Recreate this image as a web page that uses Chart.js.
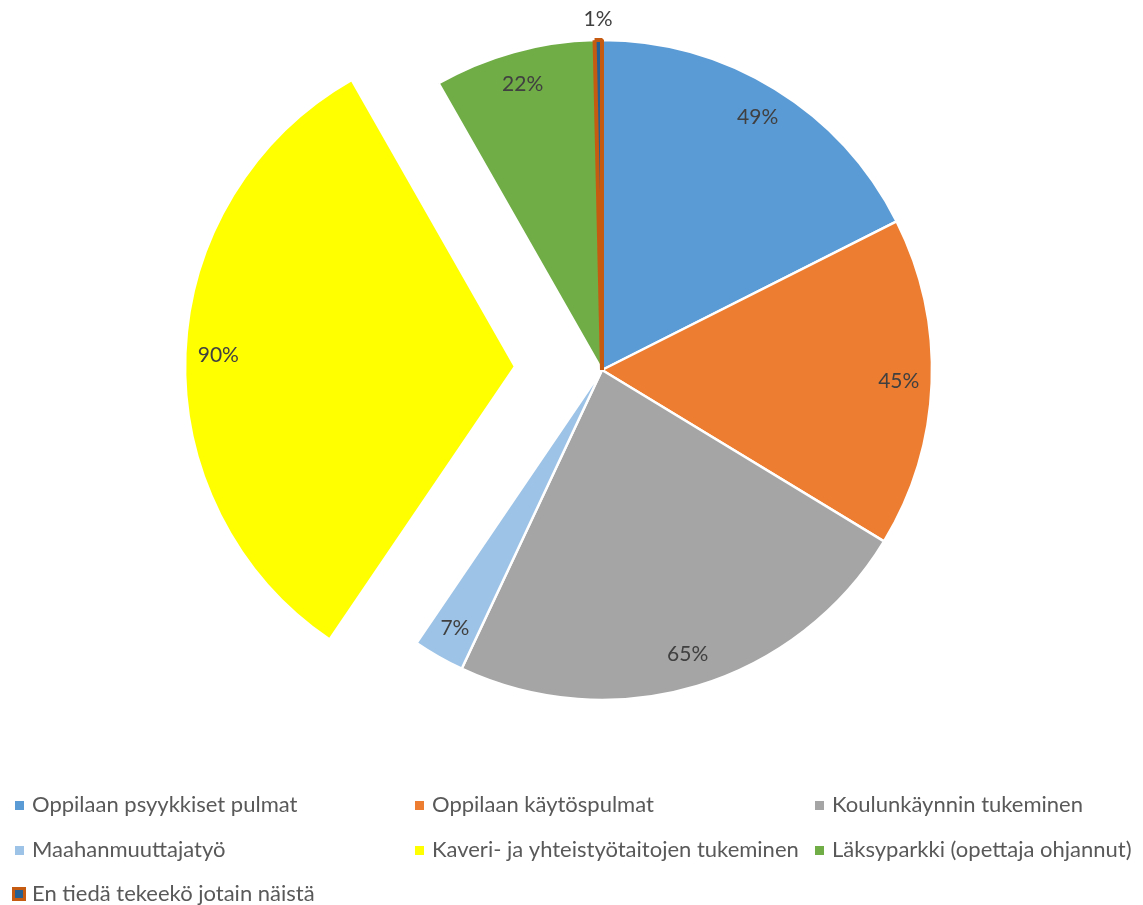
<!DOCTYPE html>
<html>
<head>
<meta charset="utf-8">
<script src="https://cdn.jsdelivr.net/npm/chart.js@4/dist/chart.umd.min.js"></script>
<style>
html,body{margin:0;padding:0;background:#fff;}
#wrap{width:1143px;height:905px;position:relative;}
</style>
</head>
<body>
<div id="wrap"><canvas id="c" width="1143" height="905"></canvas></div>
<script>
const categories = [
  "Oppilaan psyykkiset pulmat",
  "Oppilaan käytöspulmat",
  "Koulunkäynnin tukeminen",
  "Maahanmuuttajatyö",
  "Kaveri- ja yhteistyötaitojen tukeminen",
  "Läksyparkki (opettaja ohjannut)",
  "En tiedä tekeekö jotain näistä"
];
const values = [49, 45, 65, 7, 90, 22, 1];
const valueLabels = ["49%", "45%", "65%", "7%", "90%", "22%", "1%"];
const fillColors = ["#5B9BD5", "#ED7D31", "#A5A5A5", "#9DC3E6", "#FFFF00", "#70AD47", "#255E91"];
const borderColors = ["#FFFFFF", "#FFFFFF", "#FFFFFF", "#FFFFFF", "#FFFFFF", "#FFFFFF", "#C55A11"];
const borderWidths = [2.5, 2.5, 2.5, 2.5, 2.5, 2.5, 4];
const explode = [0, 0, 0, 0, 87, 0, 0];

const FONT = "Lato, 'Open Sans', sans-serif";

// Excel-style explosion: move the whole slice along its bisector
const explodePlugin = {
  id: 'explode',
  afterDatasetUpdate(chart, args) {
    const meta = chart.getDatasetMeta(args.index);
    meta.data.forEach((arc, i) => {
      const d = explode[i] || 0;
      if (!d) return;
      const mid = (arc.startAngle + arc.endAngle) / 2;
      arc.x += Math.cos(mid) * d;
      arc.y += Math.sin(mid) * d;
    });
  }
};

const labelPlugin = {
  id: 'sliceLabels',
  afterDatasetsDraw(chart) {
    const ctx = chart.ctx;
    const meta = chart.getDatasetMeta(0);
    ctx.save();
    ctx.font = "21px " + FONT;
    ctx.fillStyle = "#404040";
    ctx.textAlign = "center";
    ctx.textBaseline = "middle";
    meta.data.forEach((arc, i) => {
      const mid = (arc.startAngle + arc.endAngle) / 2;
      const r = arc.outerRadius;
      const dist = (i === 6) ? r + 21 : r - 33;
      const x = arc.x + Math.cos(mid) * dist;
      const y = arc.y + Math.sin(mid) * dist;
      ctx.fillText(valueLabels[i], x, y);
    });
    ctx.restore();
  }
};

const legendPlugin = {
  id: 'gridLegend',
  afterDraw(chart) {
    const ctx = chart.ctx;
    const colX = [15, 415, 815];
    const rowY = [805, 850, 894];
    ctx.save();
    ctx.font = "22px " + FONT;
    ctx.textBaseline = "middle";
    ctx.textAlign = "left";
    categories.forEach((name, i) => {
      const col = i % 3, row = Math.floor(i / 3);
      const x = colX[col], y = rowY[row];
      if (borderColors[i] !== "#FFFFFF") {
        ctx.fillStyle = borderColors[i];
        ctx.fillRect(x - 3, y - 7, 14, 14);
        ctx.fillStyle = fillColors[i];
        ctx.fillRect(x, y - 4, 8, 8);
      } else {
        ctx.fillStyle = fillColors[i];
        ctx.fillRect(x, y - 4, 9, 9);
      }
      ctx.fillStyle = "#595959";
      ctx.fillText(name, x + 17, y);
    });
    ctx.restore();
  }
};

new Chart(document.getElementById('c'), {
  type: 'pie',
  data: {
    labels: categories,
    datasets: [{
      data: values,
      backgroundColor: fillColors,
      borderColor: borderColors,
      borderWidth: borderWidths
    }]
  },
  options: {
    responsive: false,
    animation: false,
    radius: 330,
    layout: { padding: { left: 61, right: 0, top: 20, bottom: 185 } },
    plugins: {
      legend: { display: false },
      tooltip: { enabled: false }
    }
  },
  plugins: [explodePlugin, labelPlugin, legendPlugin]
});
</script>
</body>
</html>
